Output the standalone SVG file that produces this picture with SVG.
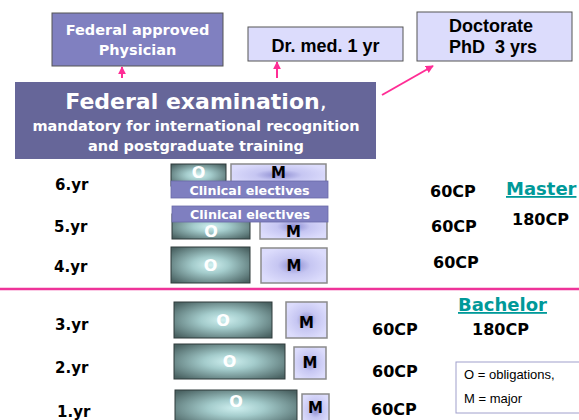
<svg xmlns="http://www.w3.org/2000/svg" width="579" height="420" viewBox="0 0 579 420">
<defs>
<radialGradient id="gO" cx="0.5" cy="0.5" r="0.65">
<stop offset="0" stop-color="#d0f0f0"/>
<stop offset="0.35" stop-color="#a4cccc"/>
<stop offset="1" stop-color="#4a6262"/>
</radialGradient>
<radialGradient id="gM" cx="0.5" cy="0.5" r="0.55">
<stop offset="0" stop-color="#8a8ad0"/>
<stop offset="0.45" stop-color="#c6c6f2"/>
<stop offset="1" stop-color="#dcdcfc"/>
</radialGradient>
<marker id="ah" viewBox="0 0 10 10" refX="9" refY="5" markerWidth="8" markerHeight="8" markerUnits="userSpaceOnUse" orient="auto">
<path d="M0,0 L10,5 L0,10 z" fill="#ff2d95"/>
</marker>
<style>
.v{font-family:"DejaVu Sans",Verdana,sans-serif;font-weight:bold}
.a{font-family:"Liberation Sans",Arial,sans-serif;font-weight:bold;font-size:18px;fill:#000}
.w{fill:#fff}
.k{fill:#000}
.ob{fill:url(#gO);stroke:#2e3a3a;stroke-width:1}
.mb{fill:url(#gM);stroke:#8a8a8a;stroke-width:1.5}
.ot{font-family:"DejaVu Sans",Verdana,sans-serif;font-weight:bold;font-size:16px;fill:#fff;text-anchor:middle}
.mt{font-family:"DejaVu Sans",Verdana,sans-serif;font-weight:bold;font-size:15px;fill:#000;text-anchor:middle}
.bar{fill:#7f7fc0;stroke:#6a6aa8;stroke-width:0.8}
.yr{font-family:"DejaVu Sans",Verdana,sans-serif;font-weight:bold;font-size:15px;fill:#000}
.cp{font-family:"DejaVu Sans",Verdana,sans-serif;font-weight:bold;font-size:16px;fill:#000}
.deg{font-family:"DejaVu Sans",Verdana,sans-serif;font-weight:bold;font-size:18px;fill:#009999;text-decoration:underline}
.lt{font-family:"Liberation Sans",Arial,sans-serif;font-size:13px;fill:#000}
.arr{stroke:#ff2d95;stroke-width:2;fill:none}
</style>
</defs>
<rect width="579" height="420" fill="#fff"/>

<g id="physician">
<rect x="52" y="13" width="171" height="53" fill="#8080c0" stroke="#555" stroke-width="1"/>
<text class="v w" x="137.5" y="35" font-size="14.5" text-anchor="middle">Federal approved</text>
<text class="v w" x="137.5" y="55" font-size="14.5" text-anchor="middle">Physician</text>
</g>

<g id="drmed">
<rect x="248" y="27" width="155" height="34" fill="#dcdcfc" stroke="#555" stroke-width="1"/>
<text class="a" x="325.5" y="52" text-anchor="middle">Dr. med. 1 yr</text>
</g>

<g id="doctorate">
<rect x="417" y="12" width="155" height="49" fill="#dcdcfc" stroke="#555" stroke-width="1"/>
<text class="a" x="449" y="32">Doctorate</text>
<text class="a" x="449" y="53">PhD&#160; 3 yrs</text>
</g>

<g id="exam">
<rect x="15" y="82" width="361" height="77" fill="#666699"/>
<text class="v w" x="196" y="109" text-anchor="middle" font-size="22">Federal examination<tspan font-weight="normal">,</tspan></text>
<text class="v w" x="196" y="131" text-anchor="middle" font-size="14.5">mandatory for international recognition</text>
<text class="v w" x="196" y="151" text-anchor="middle" font-size="14.5">and postgraduate training</text>
</g>

<g id="connectors">
<line class="arr" x1="122" y1="78" x2="122" y2="67" marker-end="url(#ah)"/>
<line class="arr" x1="277" y1="78" x2="277" y2="62" marker-end="url(#ah)"/>
<line class="arr" x1="382" y1="95" x2="433" y2="66" marker-end="url(#ah)"/>
<line x1="0" y1="289" x2="579" y2="289" stroke="#ee3399" stroke-width="2.5"/>
</g>

<g id="yr6">
<text class="yr" x="55" y="190">6.yr</text>
<rect class="ob" x="171" y="164" width="55" height="22"/>
<text class="ot" x="198.5" y="178" font-size="14">O</text>
<rect class="mb" x="231" y="164" width="95" height="22"/>
<text class="mt" x="278.5" y="178" font-size="14">M</text>
<rect class="bar" x="171" y="181" width="157" height="17"/>
<text class="v w" x="249.5" y="194.5" font-size="12.7" text-anchor="middle">Clinical electives</text>
</g>

<g id="yr5">
<text class="yr" x="54" y="232">5.yr</text>
<rect class="ob" x="172" y="214" width="78" height="25"/>
<text class="ot" x="211" y="237">O</text>
<rect class="mb" x="260" y="214" width="67" height="25"/>
<text class="mt" x="293.5" y="237">M</text>
<rect class="bar" x="172" y="206" width="156" height="16"/>
<text class="v w" x="250" y="219" font-size="12.7" text-anchor="middle">Clinical electives</text>
</g>

<g id="yr4">
<text class="yr" x="54" y="272">4.yr</text>
<rect class="ob" x="171" y="247" width="79" height="36"/>
<text class="ot" x="210.5" y="271">O</text>
<rect class="mb" x="261" y="248" width="66" height="35"/>
<text class="mt" x="294" y="271">M</text>
</g>

<g id="yr3">
<text class="yr" x="55" y="330">3.yr</text>
<rect class="ob" x="174" y="302" width="98" height="36"/>
<text class="ot" x="223" y="326">O</text>
<rect class="mb" x="286" y="302" width="41" height="36"/>
<text class="mt" x="306.5" y="328">M</text>
</g>

<g id="yr2">
<text class="yr" x="55" y="373">2.yr</text>
<rect class="ob" x="174" y="344" width="111" height="35"/>
<text class="ot" x="229.5" y="367">O</text>
<rect class="mb" x="294" y="347" width="32" height="32"/>
<text class="mt" x="310" y="368">M</text>
</g>

<g id="yr1">
<text class="yr" x="57" y="417">1.yr</text>
<rect class="ob" x="175" y="390" width="122" height="36"/>
<text class="ot" x="236" y="407">O</text>
<rect class="mb" x="302" y="394" width="27" height="32"/>
<text class="mt" x="315.5" y="413">M</text>
</g>

<g id="credits">
<text class="cp" x="430" y="197">60CP</text>
<text class="cp" x="431" y="232">60CP</text>
<text class="cp" x="433" y="268">60CP</text>
<text class="cp" x="372" y="335">60CP</text>
<text class="cp" x="372" y="377">60CP</text>
<text class="cp" x="371" y="415">60CP</text>
</g>

<g id="master">
<text class="deg" x="506" y="195">Master</text>
<text class="cp" x="512" y="225">180CP</text>
</g>

<g id="bachelor">
<text class="deg" x="458" y="311">Bachelor</text>
<text class="cp" x="472" y="335">180CP</text>
</g>

<g id="legend">
<rect x="456" y="362" width="130" height="51" fill="#fff" stroke="#a0a0cc" stroke-width="1"/>
<text class="lt" x="464" y="379">O = obligations,</text>
<text class="lt" x="464" y="403">M = major</text>
</g>
</svg>
